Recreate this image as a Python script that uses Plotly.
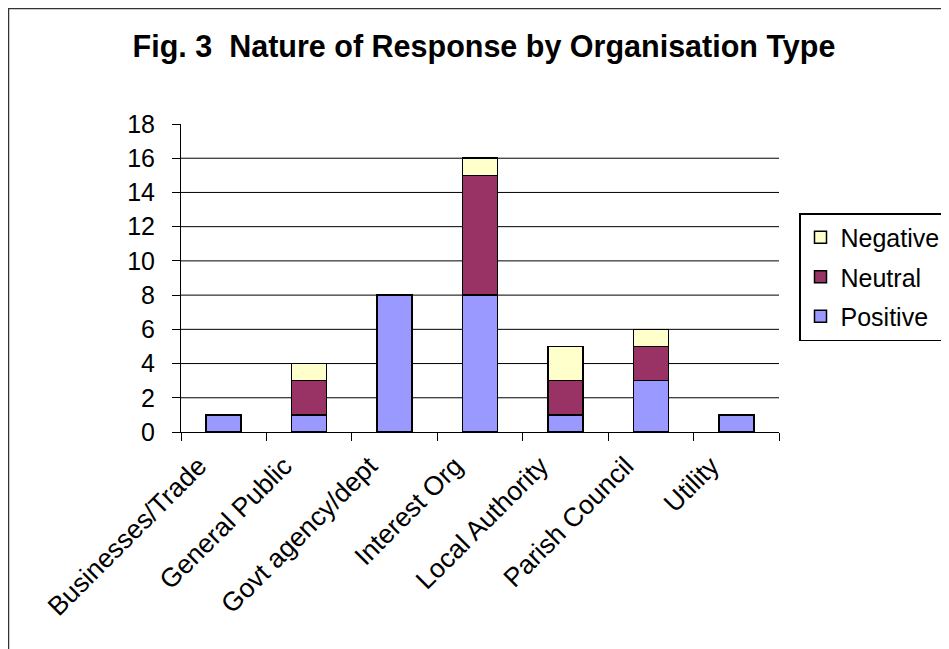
import plotly.graph_objects as go

categories = ["Businesses/Trade", "General Public", "Govt agency/dept", "Interest Org",
              "Local Authority", "Parish Council", "Utility"]
positive = [1, 1, 8, 8, 1, 3, 1]
neutral = [0, 2, 0, 7, 2, 2, 0]
negative = [0, 1, 0, 1, 2, 1, 0]
y_ticks = [0, 2, 4, 6, 8, 10, 12, 14, 16, 18]
grid_values = [2, 4, 6, 8, 10, 12, 14, 16]

FONT = "Liberation Sans, Arial, sans-serif"
# page body has an 8px margin, so the figure starts at (8, 8) in the window
W, H = 941, 641
L, T = 173, 116
R = W - 771
B = H - 424
pw, ph = W - L - R, H - T - B

fig = go.Figure()
series = [("Positive", positive, "#9999FF", 3),
          ("Neutral", neutral, "#993366", 2),
          ("Negative", negative, "#FFFFCC", 1)]
for name, vals, col, rank in series:
    xs = [c for c, v in zip(categories, vals) if v]
    ys = [v for v in vals if v]
    fig.add_trace(go.Bar(x=xs, y=ys, name=name, legendrank=rank, legendgroup=name,
                         marker=dict(color=col, line=dict(color="black", width=1.5))))

shapes = []
for g in grid_values:
    shapes.append(dict(type="line", xref="paper", x0=0, x1=1, yref="y", y0=g, y1=g,
                       line=dict(color="black", width=1), layer="below"))
# outer chart frame (left and top edges visible)
shapes.append(dict(type="rect", xref="paper", yref="paper",
                   x0=(0.5 - L) / pw, x1=1 + (R + 20) / pw,
                   y0=-(B + 20) / ph, y1=1 + (T - 0.5) / ph,
                   line=dict(color="#333333", width=1.5)))

fig.update_layout(
    width=W, height=H,
    margin=dict(l=L, r=R, t=T, b=B, autoexpand=False),
    barmode="stack", bargap=0.59,
    plot_bgcolor="white", paper_bgcolor="white",
    font=dict(family=FONT, color="black"),
    title=dict(text="<b>Fig. 3  Nature of Response by Organisation Type</b>",
               font=dict(size=30.5, family=FONT, color="black"),
               x=(484 - 8) / W, xanchor="center", y=1 - 38 / H, yanchor="middle"),
    xaxis=dict(categoryorder="array", categoryarray=categories,
               showline=True, linecolor="black", linewidth=1,
               ticks="outside", tickson="boundaries", ticklen=8, tickcolor="black",
               tickangle=-45, tickfont=dict(size=26.5, family=FONT), showgrid=False,
               ticklabelshift=-25, ticklabelstandoff=7),
    yaxis=dict(range=[0, 18], tickvals=y_ticks, showline=True, linecolor="black", linewidth=1,
               ticks="outside", ticklen=8, tickcolor="black", showgrid=False, zeroline=False,
               tickfont=dict(size=25, family=FONT), ticklabelstandoff=12),
    legend=dict(x=(791 - L) / pw, xanchor="left", y=1 - (205 - T) / ph, yanchor="top",
                traceorder="grouped", tracegroupgap=4,
                bordercolor="black", borderwidth=1.5,
                font=dict(size=25, family=FONT, color="black"), bgcolor="white"),
    shapes=shapes,
)
fig.write_html("out.html")
